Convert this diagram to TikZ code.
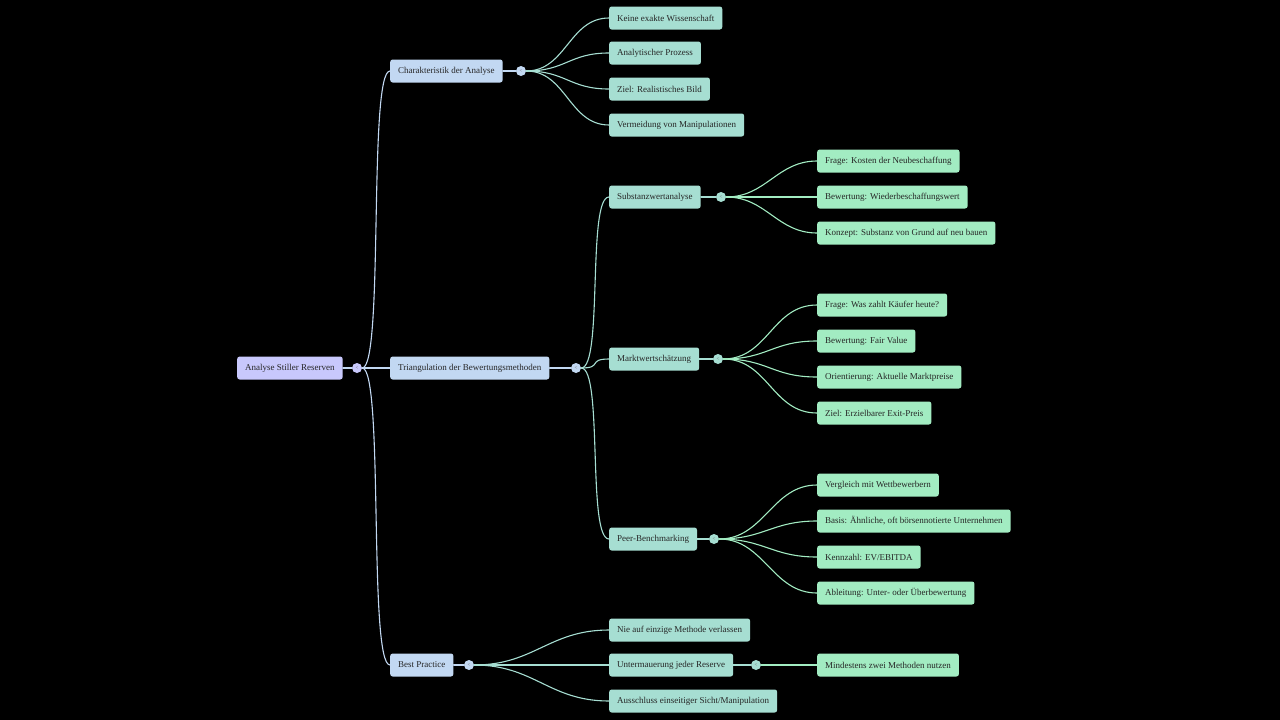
\documentclass[tikz,border=0pt]{standalone}
\usepackage{fontspec}
\setmainfont{Liberation Serif}
\usetikzlibrary{positioning}
\definecolor{rootc}{HTML}{C8C8FC}
\definecolor{lonec}{HTML}{C2D8F2}
\definecolor{ltwoc}{HTML}{A6DED2}
\definecolor{lthreec}{HTML}{A2ECC2}
\begin{document}
\begin{tikzpicture}[x=1pt,y=-1pt,font=\fontsize{9}{10}\selectfont,
  box/.style={rounded corners=2.5pt,anchor=west,minimum height=23,inner xsep=8,text=black!85},
  rootbox/.style={box,fill=rootc},
  onebox/.style={box,fill=lonec},
  twobox/.style={box,fill=ltwoc},
  threebox/.style={box,fill=lthreec},
  tog/.style={circle,inner sep=0,minimum size=10,font=\fontsize{5}{5}\selectfont,text=black!60},
  br/.style={line width=1.1pt,line cap=round}]
\fill[black] (0,0) rectangle (1280,720);
\useasboundingbox (0,0) rectangle (1280,720);
% root and first level
\node[rootbox] (root) at (237,368) {Analyse Stiller Reserven};
\node[tog,fill=rootc] (troot) at (357,368) {<};
\node[onebox] (char) at (390,71) {Charakteristik der Analyse};
\node[onebox] (tri) at (390,368) {Triangulation der Bewertungsmethoden};
\node[onebox] (best) at (390,665) {Best Practice};
\node[tog,fill=lonec] (tchar) at (521,71) {<};
\node[tog,fill=lonec] (ttri) at (576,368) {<};
\node[tog,fill=lonec] (tbest) at (469,665) {<};
% second level
\node[twobox] (kew) at (609,18) {Keine exakte Wissenschaft};
\node[twobox] (anp) at (609,53) {Analytischer Prozess};
\node[twobox] (zrb) at (609,89) {Ziel: Realistisches Bild};
\node[twobox] (vvm) at (609,125) {Vermeidung von Manipulationen};
\node[twobox] (sub) at (609,197) {Substanzwertanalyse};
\node[twobox] (mws) at (609,359) {Marktwertschätzung};
\node[twobox] (peer) at (609,539) {Peer-Benchmarking};
\node[twobox] (nie) at (609,630) {Nie auf einzige Methode verlassen};
\node[twobox] (unt) at (609,665) {Untermauerung jeder Reserve};
\node[twobox] (aus) at (609,701) {Ausschluss einseitiger Sicht/Manipulation};
\node[tog,fill=ltwoc] (tsub) at (721,197) {<};
\node[tog,fill=ltwoc] (tmws) at (718,359) {<};
\node[tog,fill=ltwoc] (tpeer) at (714,539) {<};
\node[tog,fill=ltwoc] (tunt) at (756,665) {<};
% third level
\node[threebox] (fkn) at (817,161) {Frage: Kosten der Neubeschaffung};
\node[threebox] (bww) at (817,197) {Bewertung: Wiederbeschaffungswert};
\node[threebox] (ksg) at (817,233) {Konzept: Substanz von Grund auf neu bauen};
\node[threebox] (fwz) at (817,305) {Frage: Was zahlt Käufer heute?};
\node[threebox] (bfv) at (817,341) {Bewertung: Fair Value};
\node[threebox] (oam) at (817,377) {Orientierung: Aktuelle Marktpreise};
\node[threebox] (zee) at (817,413) {Ziel: Erzielbarer Exit-Preis};
\node[threebox] (vmw) at (817,485) {Vergleich mit Wettbewerbern};
\node[threebox] (bas) at (817,521) {Basis: Ähnliche, oft börsennotierte Unternehmen};
\node[threebox] (kze) at (817,557) {Kennzahl: EV/EBITDA};
\node[threebox] (abl) at (817,593) {Ableitung: Unter- oder Überbewertung};
\node[threebox] (mzm) at (817,665) {Mindestens zwei Methoden nutzen};
% branches
\foreach \a/\b in {root/troot,char/tchar,tri/ttri,best/tbest}
  \draw[br,lonec] (\a.east) -- (\b);
\foreach \a/\b in {sub/tsub,mws/tmws,peer/tpeer,unt/tunt}
  \draw[br,ltwoc] (\a.east) -- (\b);
\foreach \t in {char,tri,best}
  \draw[br,lonec] (troot.east) .. controls +(22,0) and +(-22,0) .. (\t.west);
\foreach \t in {kew,anp,zrb,vvm}
  \draw[br,ltwoc] (tchar.east) .. controls +(40,0) and +(-40,0) .. (\t.west);
\foreach \t in {sub,mws,peer}
  \draw[br,ltwoc] (ttri.east) .. controls +(22,0) and +(-22,0) .. (\t.west);
\foreach \t in {nie,unt,aus}
  \draw[br,ltwoc] (tbest.east) .. controls +(60,0) and +(-60,0) .. (\t.west);
\foreach \t in {fkn,bww,ksg}
  \draw[br,lthreec] (tsub.east) .. controls +(40,0) and +(-40,0) .. (\t.west);
\foreach \t in {fwz,bfv,oam,zee}
  \draw[br,lthreec] (tmws.east) .. controls +(45,0) and +(-45,0) .. (\t.west);
\foreach \t in {vmw,bas,kze,abl}
  \draw[br,lthreec] (tpeer.east) .. controls +(45,0) and +(-45,0) .. (\t.west);
\draw[br,lthreec] (tunt.east) -- (mzm.west);
\end{tikzpicture}
\end{document}
